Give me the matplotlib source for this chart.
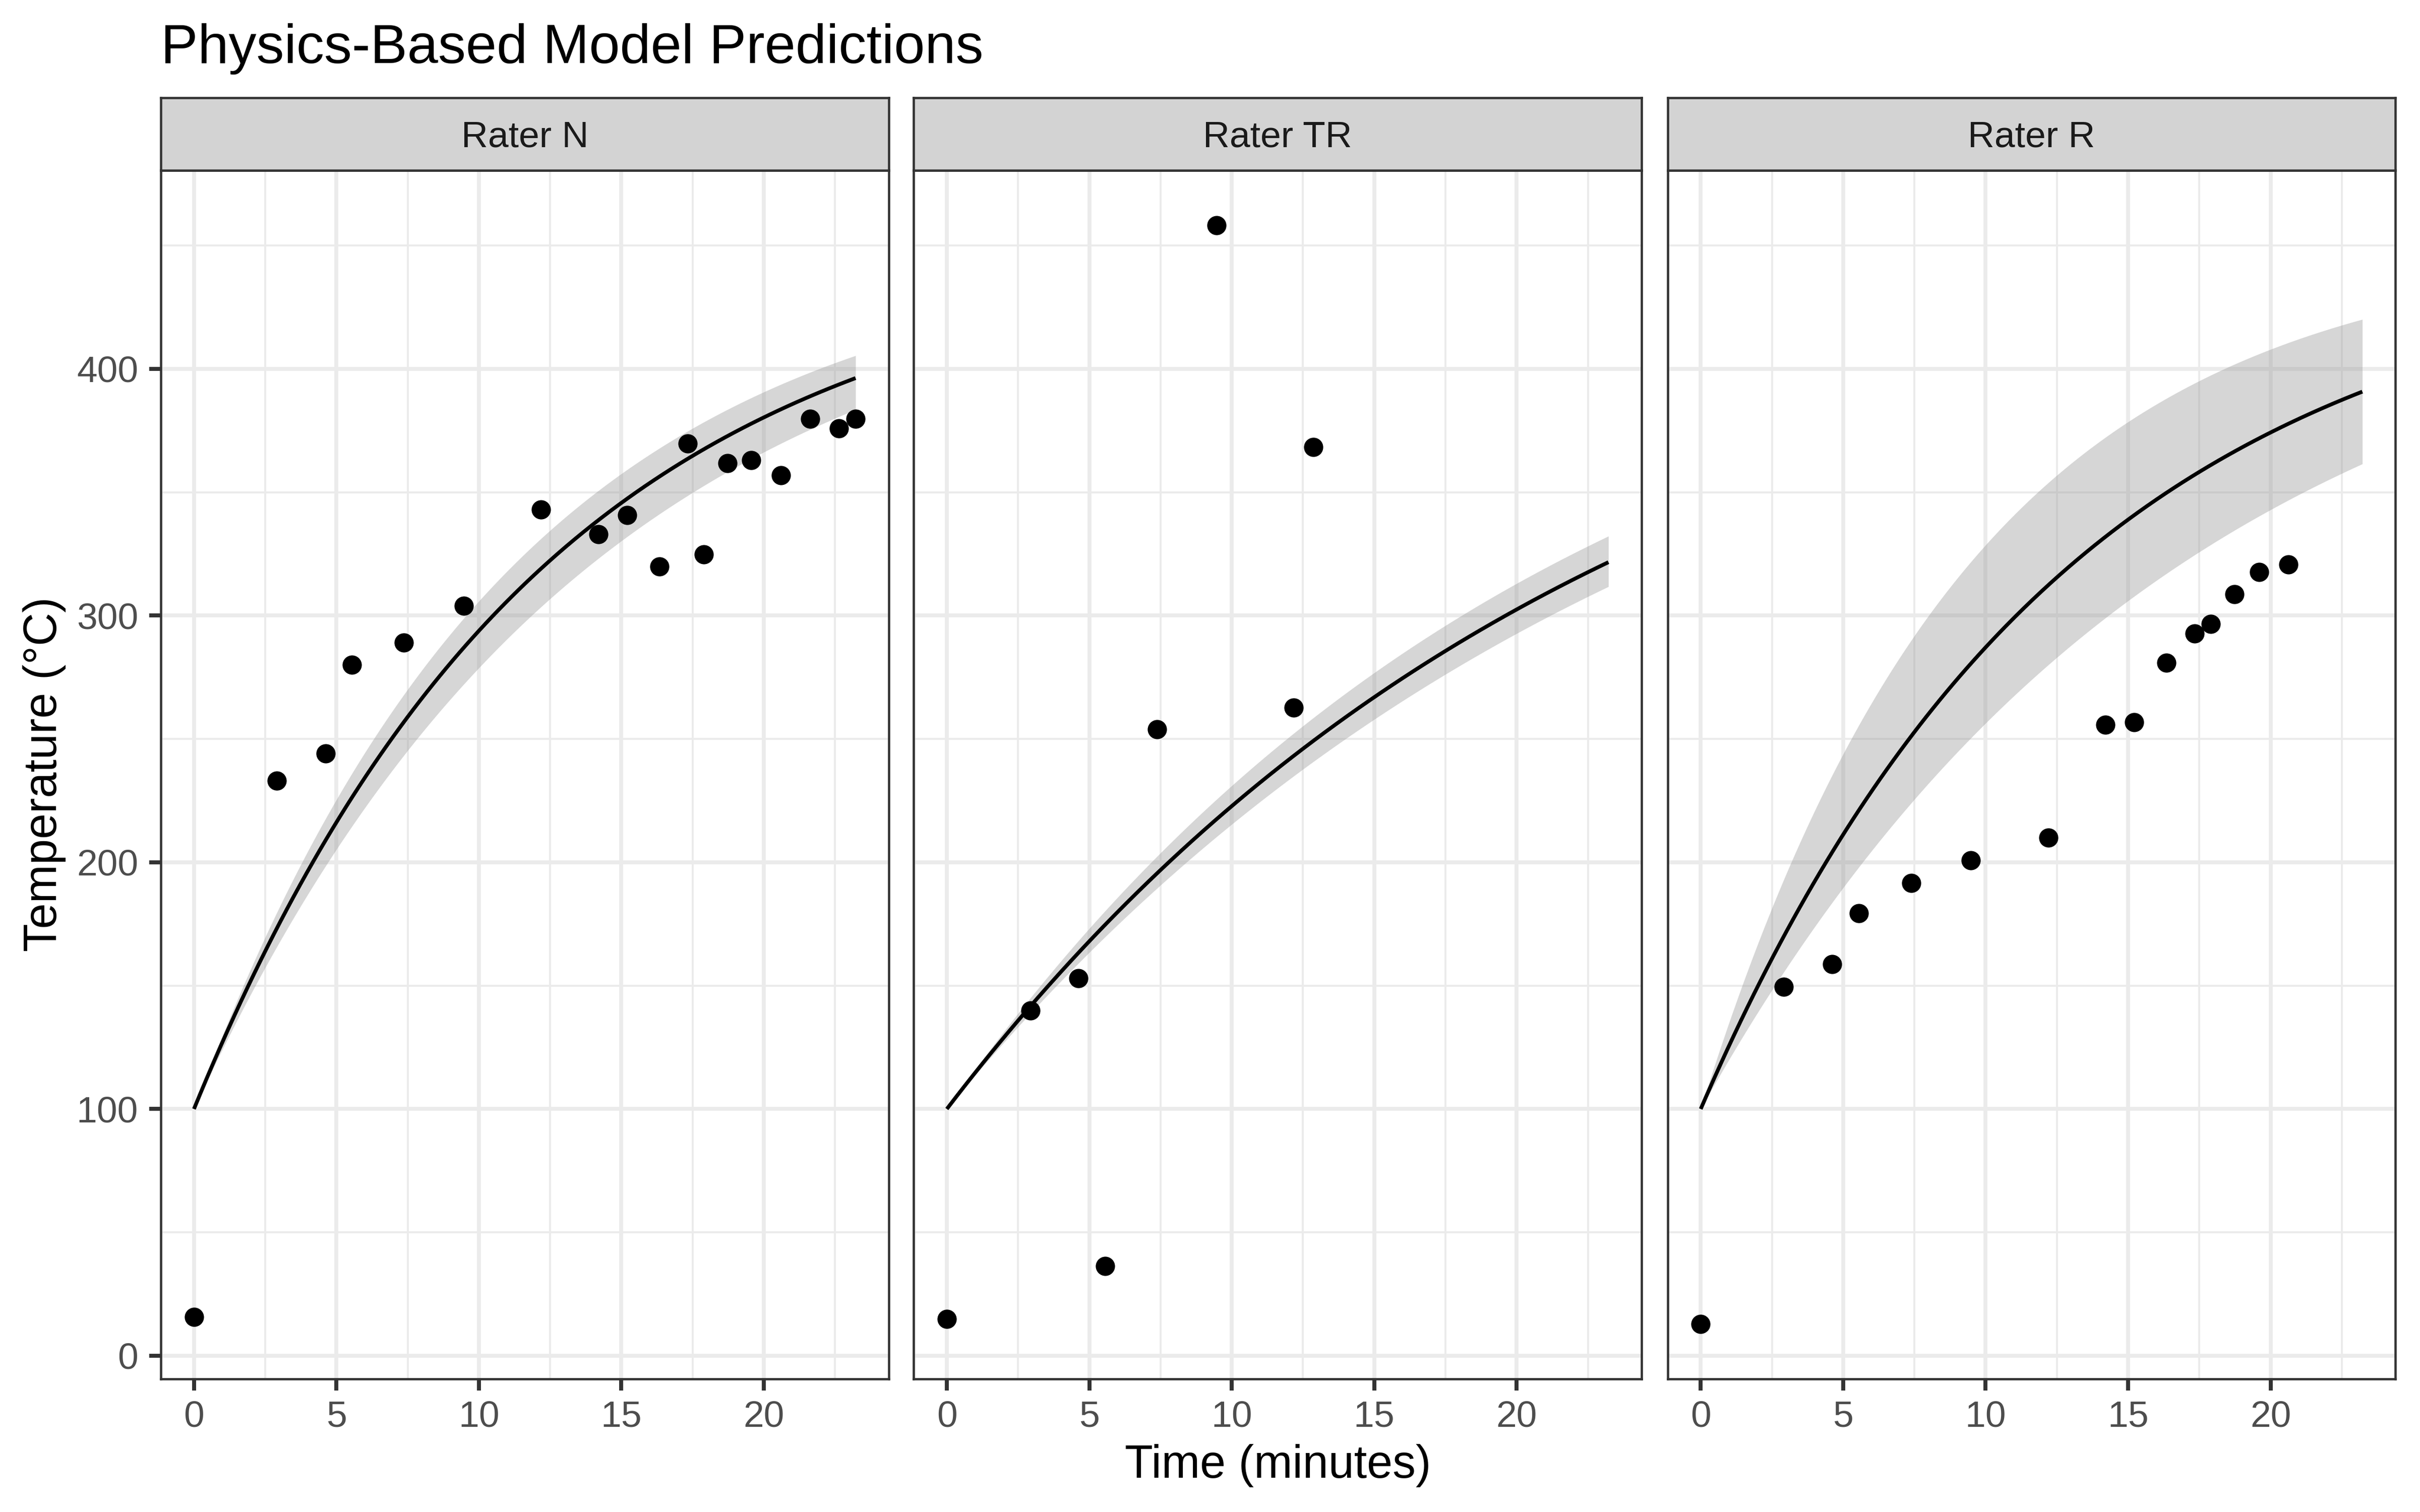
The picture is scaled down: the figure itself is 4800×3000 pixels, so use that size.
import numpy as np
import matplotlib
matplotlib.use("Agg")
import matplotlib.pyplot as plt
from matplotlib.ticker import MultipleLocator

plt.rcParams['font.family'] = ['Liberation Sans', 'DejaVu Sans']

# ---------------- data ----------------
raters = ["Rater N", "Rater TR", "Rater R"]

time_N = [0, 2.91, 4.63, 5.54, 7.36, 9.48, 12.18, 14.19, 15.20, 16.33, 17.33,
          17.90, 18.73, 19.56, 20.61, 21.62, 22.63, 23.22]
temp_N = [15.7, 233.1, 244.2, 280.0, 289.0, 303.9, 342.9, 332.9, 340.8, 319.9, 369.7,
          324.8, 361.8, 362.9, 356.9, 379.7, 375.8, 379.7]

time_TR = [0, 2.94, 4.62, 5.55, 7.37, 9.47, 12.18, 12.87]
temp_TR = [14.9, 140.0, 153.0, 36.4, 253.9, 458.3, 262.6, 368.4]

time_R = [0, 2.92, 4.62, 5.55, 7.39, 9.47, 12.20, 14.20, 15.21, 16.34, 17.33,
          17.91, 18.73, 19.60, 20.62]
temp_R = [12.95, 149.5, 158.8, 179.3, 191.6, 200.8, 209.9, 255.7, 256.8, 280.8, 292.8,
          296.7, 308.7, 317.6, 320.8]

# physics (Newton heating) model parameters
T_initial = 100.0
T_ambient = 450.0
k_fit = [0.0807, 0.0432, 0.0765]
k_low = [0.0715, 0.0400, 0.0592]
k_high = [0.0887, 0.0469, 0.1059]

x_ticks = [0, 5, 10, 15, 20]
y_ticks = [0, 100, 200, 300, 400]

title = "Physics-Based Model Predictions"
x_label = "Time (minutes)"
y_label = "Temperature (°C)"

times = [time_N, time_TR, time_R]
temps = [temp_N, temp_TR, temp_R]

# ---------------- layout ----------------
W, H = 4800, 3000
fig = plt.figure(figsize=(16, 10), dpi=300)

panel_left = [319.1, 1812.4, 3307.7]
panel_w = 1443.5
panel_top = 337.5
panel_bottom = 2735.5
strip_top = 193.5

t_max = max(max(t) for t in times)
all_y = [v for tt in temps for v in tt]
y_min, y_max = min(all_y), max(all_y)
xr = t_max
yr = y_max - y_min
xlim = (-0.05 * xr, t_max + 0.05 * xr)
ylim = (y_min - 0.05 * yr, y_max + 0.05 * yr)

grid_col = "#EBEBEB"
dark = "#333333"

t_model = np.linspace(0, t_max, 300)

def model(k):
    return T_ambient - (T_ambient - T_initial) * np.exp(-k * t_model)

for i, name in enumerate(raters):
    l = panel_left[i] / W
    b = 1 - panel_bottom / H
    w = panel_w / W
    h = (panel_bottom - panel_top) / H
    ax = fig.add_axes([l, b, w, h])
    ax.set_xlim(*xlim)
    ax.set_ylim(*ylim)
    ax.set_axisbelow(True)
    ax.xaxis.set_major_locator(MultipleLocator(5))
    ax.xaxis.set_minor_locator(MultipleLocator(2.5))
    ax.yaxis.set_major_locator(MultipleLocator(100))
    ax.yaxis.set_minor_locator(MultipleLocator(50))
    ax.grid(which="major", color=grid_col, linewidth=1.85)
    ax.grid(which="minor", color=grid_col, linewidth=0.95)
    ax.tick_params(which="minor", length=0)
    ax.tick_params(which="major", length=5.5, width=1.9, color=dark,
                   labelsize=17.6, labelcolor="#4D4D4D")
    ax.tick_params(axis="x", pad=4.8)
    ax.tick_params(axis="y", pad=5.3)
    ax.set_xticks(x_ticks)
    ax.set_yticks(y_ticks)
    if i > 0:
        ax.tick_params(axis="y", left=False, labelleft=False)
    for s in ax.spines.values():
        s.set_color(dark)
        s.set_linewidth(1.1)

    ax.fill_between(t_model, model(k_low[i]), model(k_high[i]),
                    color="#999999", alpha=0.4, linewidth=0)
    ax.plot(t_model, model(k_fit[i]), color="black", linewidth=1.8,
            solid_capstyle="butt")
    ax.scatter(times[i], temps[i], s=84, color="black", linewidths=0, zorder=3)

    # facet strip
    sax = fig.add_axes([l, 1 - panel_top / H, w, (panel_top - strip_top) / H])
    sax.set_facecolor("#D3D3D3")
    sax.set_xticks([])
    sax.set_yticks([])
    for s in sax.spines.values():
        s.set_color(dark)
        s.set_linewidth(1.1)
    sax.text(0.5, 0.5, name, ha="center", va="center_baseline",
             fontsize=17.6, color="#1A1A1A", transform=sax.transAxes)

fig.text(319.1 / W, 1 - 125 / H, title, fontsize=26.4, ha="left",
         va="baseline", color="black")
fig.text((panel_left[0] + panel_left[2] + panel_w) / 2 / W, 1 - 2932 / H, x_label,
         fontsize=22, ha="center", va="baseline", color="black")
fig.text(111.7 / W, 1 - (panel_top + panel_bottom) / 2 / H, y_label,
         fontsize=22, ha="center", va="baseline", rotation=90,
         rotation_mode="anchor", color="black")

fig.savefig("out.png", dpi=300, facecolor="white")
